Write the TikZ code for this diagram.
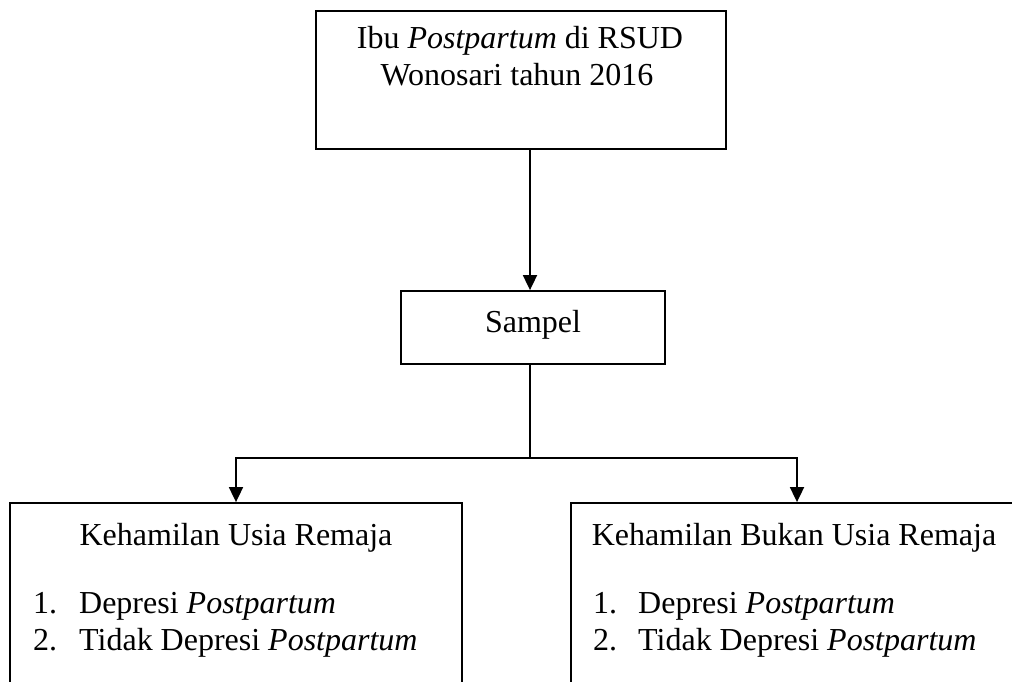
\documentclass[tikz,border=0pt]{standalone}
\usepackage{fontspec}
\setmainfont{Liberation Serif}
\usetikzlibrary{arrows.meta}
\begin{document}
\begin{tikzpicture}[x=1pt,y=-1pt,
  boxstyle/.style={draw, line width=1.8pt, inner sep=0pt, rectangle},
  txt/.style={font=\fontsize{32}{37}\selectfont, inner sep=0pt},
  conn/.style={line width=1.8pt},
  arr/.style={line width=1.8pt, -{Triangle[length=15pt,width=14pt]}}]
\useasboundingbox (0,0) rectangle (1012,681);
% boxes
\node[boxstyle, minimum width=410pt, minimum height=138pt] (top) at (521,80) {};
\node[boxstyle, minimum width=264pt, minimum height=73pt] (sampel) at (533,327.5) {};
\node[boxstyle, minimum width=452pt, minimum height=237pt] (left) at (236,621.5) {};
\node[boxstyle, minimum width=452pt, minimum height=237pt] (right) at (797,621.5) {};
% texts
\node[txt, anchor=base] (t1) at (520,48) {Ibu \textit{Postpartum} di RSUD};
\node[txt, anchor=base] (t2) at (517,85) {Wonosari tahun 2016};
\node[txt, anchor=base] (st) at (533,332) {Sampel};
\node[txt, anchor=base] (lt) at (236,545) {Kehamilan Usia Remaja};
\node[txt, anchor=base west] (l1) at (33,613) {\makebox[46pt][l]{1.}Depresi \textit{Postpartum}};
\node[txt, anchor=base west] (l2) at (33,650) {\makebox[46pt][l]{2.}Tidak Depresi \textit{Postpartum}};
\node[txt, anchor=base] (rt) at (794,545) {Kehamilan Bukan Usia Remaja};
\node[txt, anchor=base west] (r1) at (593,613) {\makebox[45pt][l]{1.}Depresi \textit{Postpartum}};
\node[txt, anchor=base west] (r2) at (593,650) {\makebox[45pt][l]{2.}Tidak Depresi \textit{Postpartum}};
% connectors
\coordinate (hub) at (530,458);
\draw[arr] (hub |- top.south) -- (hub |- sampel.north);
\draw[conn] (hub |- sampel.south) -- (hub);
\draw[arr] (hub) -| (left.north);
\draw[arr] (hub) -| (right.north);
\end{tikzpicture}
\end{document}
